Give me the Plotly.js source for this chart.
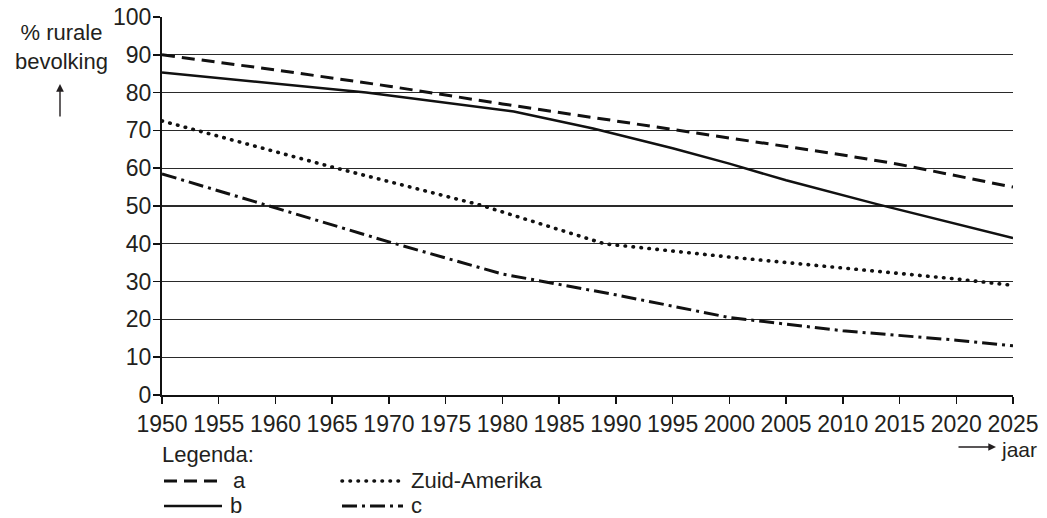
<!DOCTYPE html>
<html>
<head>
<meta charset="utf-8">
<script src="https://cdn.plot.ly/plotly-3.0.1.min.js"></script>
<style>
  html, body { margin: 0; padding: 0; background: #fff; }
  #chart { width: 1047px; height: 518px; }
  .scatterlayer .trace:nth-child(3) .js-line { stroke-linecap: round; }
  .shapelayer path[data-index="2"] { stroke-linecap: round; }
</style>
</head>
<body>
<div id="chart"></div>
<script>
// ---- data ----
const yearsA = [1950, 1960, 1970, 1980, 1990, 2000, 2010, 2015, 2020, 2025];
const valuesA = [90, 86, 81.7, 77, 72.5, 68, 63.5, 61, 58, 55];

const yearsB = [1950, 1968, 1981, 1988, 1995, 2000, 2005, 2013, 2025];
const valuesB = [85.3, 80, 75, 70.5, 65.3, 61.2, 56.8, 50.5, 41.5];

const yearsZA = [1950, 1965, 1978, 1989, 2000, 2010, 2020, 2025];
const valuesZA = [72.5, 60.3, 50.3, 40, 36.5, 33.7, 30.7, 29];

const yearsC = [1950, 1960, 1970, 1980, 1990, 2000, 2010, 2020, 2025];
const valuesC = [58.5, 49.5, 40.5, 32, 26.5, 20.5, 17, 14.5, 13];

const xTicks = [1950, 1955, 1960, 1965, 1970, 1975, 1980, 1985, 1990, 1995, 2000, 2005, 2010, 2015, 2020, 2025];
const yTicks = [0, 10, 20, 30, 40, 50, 60, 70, 80, 90, 100];

const seriesNames = ['a', 'b', 'Zuid-Amerika', 'c'];
const legendTitle = 'Legenda:';
const yTitle = '% rurale<br>bevolking';
const xTitle = 'jaar';

// ---- styles ----
const FONT = 'Liberation Sans, Arial, Helvetica, sans-serif';
const TXT = '#231f20';
const LINE = '#111111';
const styles = [
  { width: 3, dash: '13px,7px' },
  { width: 2.5, dash: 'solid' },
  { width: 3.6, dash: '0.5px,7.5px' },
  { width: 3, dash: '15px,5px,3px,5px' }
];

// plot-area geometry (pixels) for placing the decorations
const L = 162, R = 34, T = 17, B = 123, W = 1047, H = 518;
const PW = W - L - R, PH = H - T - B;
const px = v => (v - L) / PW;
const py = v => (H - B - v) / PH;

const xs = [yearsA, yearsB, yearsZA, yearsC];
const ys = [valuesA, valuesB, valuesZA, valuesC];

const traces = seriesNames.map((n, i) => ({
  x: xs[i], y: ys[i], name: n, type: 'scatter', mode: 'lines',
  line: { color: LINE, width: styles[i].width, dash: styles[i].dash },
  hoverinfo: 'skip', showlegend: false
}));

// legend samples (decoration, drawn as shapes)
const legPos = [
  { x0: 164, x1: 222, y: 481, tx: 231 },
  { x0: 164, x1: 222, y: 506, tx: 228 },
  { x0: 342, x1: 403, y: 481, tx: 409 },
  { x0: 342, x1: 403, y: 506, tx: 409 }
];
const shapes = legPos.map((p, i) => ({
  type: 'line', xref: 'paper', yref: 'paper',
  x0: px(p.x0), x1: px(p.x1), y0: py(p.y), y1: py(p.y),
  line: { color: LINE, width: styles[i].width, dash: styles[i].dash }
}));

const annFont = { family: FONT, size: 22, color: TXT };
const annotations = [
  { xref: 'paper', yref: 'paper', x: px(61), y: py(47), xanchor: 'center', yanchor: 'middle',
    text: yTitle, showarrow: false, font: { family: FONT, size: 22, color: TXT } },
  { xref: 'paper', yref: 'paper', x: px(60), y: py(84), ax: 0, ay: 34, text: '',
    showarrow: true, arrowhead: 2, arrowsize: 1.1, arrowwidth: 1.4, arrowcolor: TXT },
  { xref: 'paper', yref: 'paper', x: px(996), y: py(447), ax: -39, ay: 0, text: '',
    showarrow: true, arrowhead: 2, arrowsize: 1.1, arrowwidth: 1.4, arrowcolor: TXT },
  { xref: 'paper', yref: 'paper', x: px(999), y: py(449), xanchor: 'left', yanchor: 'middle',
    text: xTitle, showarrow: false, font: { family: FONT, size: 21, color: TXT } },
  { xref: 'paper', yref: 'paper', x: px(160), y: py(454), xanchor: 'left', yanchor: 'middle',
    text: legendTitle, showarrow: false, font: annFont }
].concat(legPos.map((p, i) => ({
  xref: 'paper', yref: 'paper', x: px(p.tx), y: py(p.y - 1), xanchor: 'left', yanchor: 'middle',
  text: seriesNames[i], showarrow: false, font: annFont
})));

const layout = {
  width: W, height: H,
  margin: { l: L, r: R, t: T, b: B, pad: 0 },
  paper_bgcolor: '#fff', plot_bgcolor: '#fff',
  font: { family: FONT, color: TXT, size: 22 },
  showlegend: false,
  xaxis: {
    range: [1950, 2025], tickmode: 'array', tickvals: xTicks, ticktext: xTicks.map(String),
    ticks: 'outside', ticklen: 7, tickwidth: 1.5, tickcolor: '#111',
    showline: true, linecolor: '#111', linewidth: 2, showgrid: false, zeroline: false,
    tickfont: { family: FONT, size: 23, color: TXT }, fixedrange: true
  },
  xaxis2: {
    overlaying: 'x', matches: 'x', anchor: 'y', side: 'bottom',
    range: [1950, 2025], tickmode: 'array', tickvals: xTicks,
    ticks: 'inside', ticklen: 5, tickwidth: 1.5, tickcolor: '#111',
    showticklabels: false, showline: false, showgrid: false, zeroline: false
  },
  yaxis: {
    range: [0, 100], tickmode: 'array', tickvals: yTicks, ticktext: yTicks.map(String),
    ticks: 'outside', ticklen: 7, tickwidth: 1.5, tickcolor: '#111',
    ticklabelstandoff: -3,
    showline: true, linecolor: '#111', linewidth: 2,
    showgrid: true, gridcolor: '#2a2a2a', gridwidth: 1.3, zeroline: false,
    tickfont: { family: FONT, size: 23, color: TXT }, fixedrange: true
  },
  shapes: shapes,
  annotations: annotations
};

Plotly.newPlot('chart', traces, layout, { staticPlot: true, displayModeBar: false });
</script>
</body>
</html>
